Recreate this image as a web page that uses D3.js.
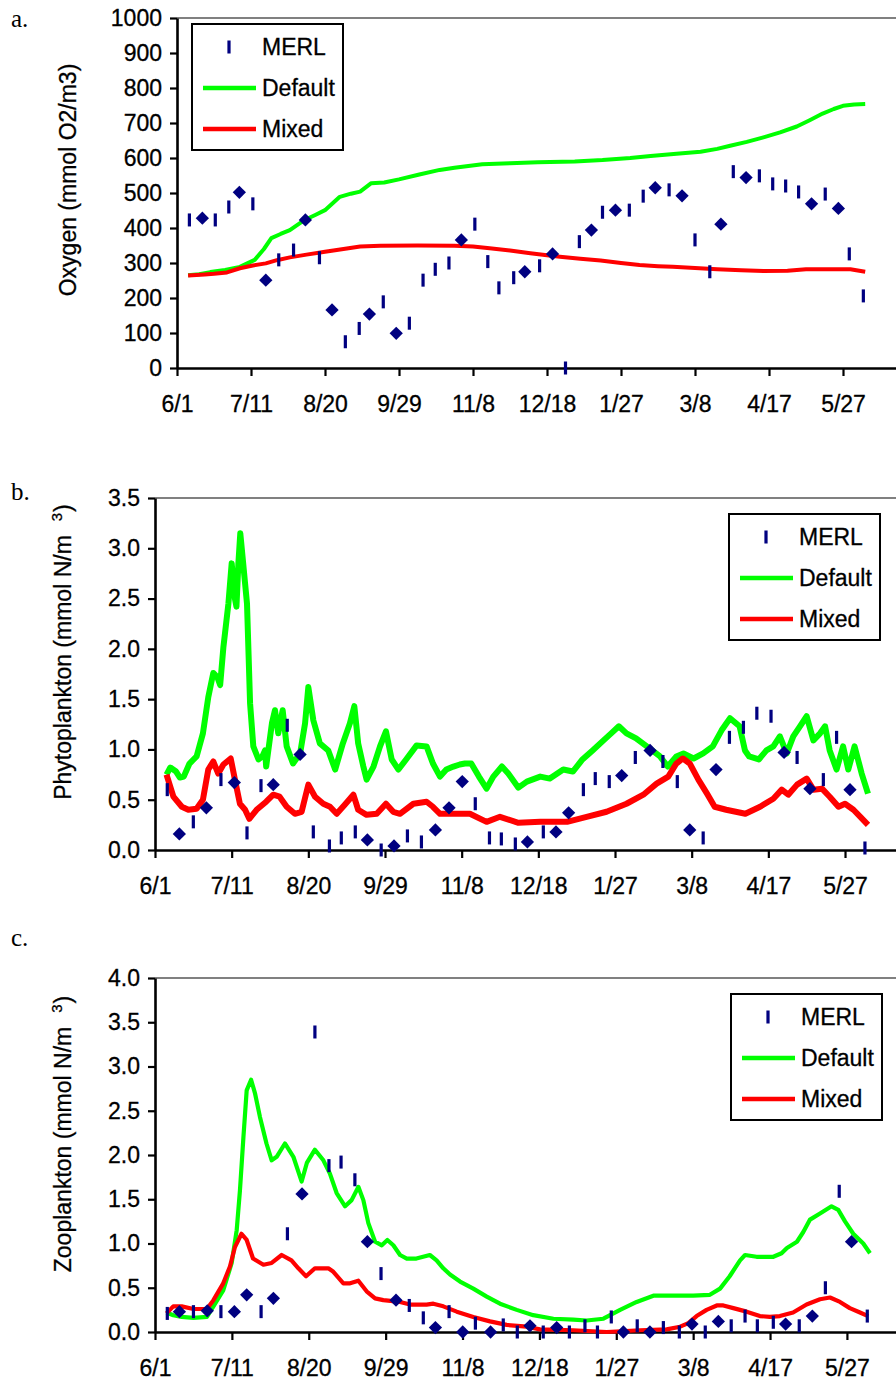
<!DOCTYPE html>
<html>
<head>
<meta charset="utf-8">
<script src="https://cdn.jsdelivr.net/npm/d3@7"></script>
<style>
  body { margin: 0; background: #fff; }
  svg { display: block; }
</style>
</head>
<body>
<svg id="chart" width="896" height="1387"></svg>
<script>
// ---- Shared axis labels (days since 6/1, ticks every 40 days) ----
const dateTicks = ["6/1", "7/11", "8/20", "9/29", "11/8", "12/18", "1/27", "3/8", "4/17", "5/27"];
const oxygenTicks = [0, 100, 200, 300, 400, 500, 600, 700, 800, 900, 1000];
const phytoTicks = [0, 0.5, 1.0, 1.5, 2.0, 2.5, 3.0, 3.5];
const zooTicks = [0, 0.5, 1.0, 1.5, 2.0, 2.5, 3.0, 3.5, 4.0];
const seriesNames = ["MERL", "Default", "Mixed"];

// ---- a. Oxygen (mmol O2/m3): [day, value] ----
const oxygenDefault = [[6,265],[12,268],[18,274],[26,280],[34,289],[42,309],[47,340],[51,371],[56,383],[61,394],[69,423],[75,438],[80,451],[88,489],[94,498],[99,504],[105,528],[112,530],[120,539],[131,553],[142,566],[150,572],[165,582],[180,585],[195,588],[215,590],[230,594],[245,600],[256,606],[270,612],[283,618],[292,626],[299,635],[308,646],[317,659],[326,673],[335,690],[342,708],[349,727],[355,740],[360,749],[366,753],[372,754]];
const oxygenMixed = [[6,264],[15,267],[20,269],[27,273],[34,285],[41,293],[48,299],[54,308],[61,316],[70,324],[80,332],[90,340],[99,347],[110,349],[130,350],[150,349],[160,347],[169,342],[180,336],[191,328],[200,322],[207,318],[218,312],[229,307],[240,300],[250,294],[260,291],[268,289],[280,286],[292,282],[305,279],[317,277],[330,278],[340,282],[352,282],[364,282],[372,275]];
const oxygenMerl = [[6.7,423],[20.7,423],[28,460],[41,469],[55,309],[63,337],[77,315],[91,75],[98.5,113],[111.5,189],[125.6,128],[133,251],[139.6,282],[147,300],[161,411],[168,304],[174,229],[182,258],[196,292],[210,0],[217.5,361],[230,445],[244.5,451],[252,491],[266,509],[280,366],[288,275],[300.7,561],[314.8,549],[322,526],[329,520],[336,503],[350.4,497],[363.4,326],[371,206]];
const oxygenMerlMean = [[13.7,428],[33.7,502],[48,251],[69.4,423],[83.8,166],[104,154],[118.5,99],[153.7,366],[188,275],[203,326],[224,394],[237,451],[258.5,515],[273,492],[294,411],[307.6,544],[343,469],[357.5,456]];

// ---- b. Phytoplankton (mmol N/m3) ----
const phytoDefault = [[6,0.75],[8,0.82],[11,0.78],[13,0.72],[15,0.73],[18,0.86],[21.7,0.93],[25,1.16],[27.8,1.52],[30.4,1.76],[32.5,1.72],[34,1.64],[35.7,2.02],[38.3,2.45],[40,2.85],[41.7,2.5],[42.5,2.42],[43.5,2.85],[44.5,3.15],[46,2.85],[47,2.65],[48,2.45],[49.6,1.46],[51.3,1.03],[54,0.9],[56,0.93],[57.4,0.99],[58,0.83],[61,1.26],[62.6,1.39],[64.3,1.16],[66.6,1.39],[68.7,1.03],[72,0.86],[75.7,0.96],[78.3,1.26],[80,1.62],[82.6,1.29],[86,1.06],[90.4,0.99],[94,0.8],[98,1.06],[101.7,1.26],[104,1.43],[106,1.06],[108.7,0.83],[110.4,0.7],[114,0.83],[117.4,1.03],[120.5,1.18],[123.5,0.9],[127,0.8],[131,0.9],[136.5,1.04],[141.7,1.03],[145,0.86],[148.7,0.73],[152,0.8],[155.7,0.83],[159,0.85],[161.7,0.86],[165,0.86],[169,0.73],[173,0.61],[176.5,0.73],[181,0.83],[184.3,0.76],[189.6,0.62],[194,0.68],[201,0.73],[206,0.71],[213,0.8],[218,0.78],[223,0.9],[228.3,0.99],[234,1.09],[238,1.16],[242,1.23],[246,1.16],[251,1.11],[258,1.01],[263.5,0.93],[267.5,0.83],[272,0.93],[275.7,0.96],[281,0.91],[286,0.96],[291,1.03],[295.6,1.19],[300,1.31],[305,1.23],[307.8,0.99],[310,0.93],[315,0.9],[319,0.99],[322.6,1.03],[326,1.13],[329.6,0.96],[333,1.13],[336.5,1.23],[340,1.33],[343.5,1.09],[347,1.16],[349.6,1.23],[352,0.99],[355.6,0.8],[359,1.03],[361.7,0.8],[365,1.03],[368.7,0.76],[372,0.56]];
const phytoMixed = [[6,0.75],[9.6,0.53],[14,0.43],[17.4,0.4],[21.7,0.41],[25,0.5],[27.8,0.8],[30.4,0.88],[33,0.76],[35.7,0.85],[39.5,0.91],[41.7,0.7],[44.3,0.46],[47,0.4],[49.2,0.31],[53,0.4],[58,0.48],[61.7,0.55],[65,0.53],[68.7,0.43],[73,0.36],[76.5,0.38],[80,0.65],[83.5,0.53],[87.8,0.46],[91.3,0.43],[94.8,0.36],[99,0.45],[103.5,0.55],[106,0.4],[110.4,0.35],[115.7,0.36],[120.5,0.46],[124.3,0.38],[127.8,0.36],[134.8,0.46],[141.7,0.48],[145,0.43],[148.7,0.36],[155.7,0.36],[164.3,0.36],[173,0.28],[180,0.33],[189.6,0.27],[201,0.28],[215,0.28],[225.2,0.33],[235.6,0.38],[246,0.46],[254.8,0.55],[261.7,0.66],[267.8,0.73],[272,0.86],[275.4,0.91],[279,0.86],[283.5,0.7],[288,0.56],[292,0.43],[298,0.4],[308,0.36],[315.7,0.43],[322.6,0.51],[327,0.6],[330.4,0.55],[335,0.65],[340,0.71],[343.5,0.6],[348,0.61],[352,0.53],[356.6,0.43],[360,0.46],[364.4,0.4],[368,0.33],[372,0.25]];
const phytoMerl = [[6.4,0.6],[20,0.28],[34.4,0.7],[48,0.17],[55.3,0.64],[69,1.24],[82.6,0.18],[91,0.04],[97.2,0.12],[104.5,0.18],[118,0.0],[131.7,0.14],[139,0.08],[167.1,0.46],[174.5,0.12],[180.7,0.11],[188,0.06],[202.6,0.18],[223.5,0.6],[229.7,0.71],[237,0.68],[250.6,0.92],[265,0.88],[272.5,0.68],[286,0.12],[299.7,1.12],[307,1.22],[314,1.36],[321.4,1.33],[335,0.92],[348.7,0.7],[355.6,1.12],[370.4,0.02]];
const phytoMerlMean = [[12.7,0.16],[26.8,0.42],[41.4,0.67],[61.7,0.65],[75.7,0.95],[110.8,0.1],[124.7,0.04],[146.3,0.2],[153.4,0.42],[160.3,0.68],[194.3,0.08],[209.2,0.18],[215.8,0.37],[243.5,0.74],[258.3,0.99],[279,0.2],[292.7,0.8],[328.2,0.97],[341.7,0.61],[362.6,0.6]];

// ---- c. Zooplankton (mmol N/m3) ----
const zooDefault = [[6,0.22],[9.5,0.19],[13.9,0.17],[20,0.16],[27,0.17],[30.4,0.29],[35.5,0.47],[39.9,0.78],[42.5,1.15],[44.2,1.6],[46,2.2],[47.7,2.73],[50,2.85],[52,2.7],[54.6,2.43],[58,2.13],[60.7,1.94],[63.3,1.98],[67.6,2.13],[72,1.98],[76.3,1.7],[79,1.91],[83.2,2.06],[87.6,1.94],[91,1.79],[94.5,1.57],[98.9,1.42],[102.3,1.49],[105.8,1.64],[108.4,1.49],[111,1.23],[114.5,1.02],[118,0.98],[120.9,1.04],[124,0.98],[127.5,0.87],[131,0.83],[136,0.83],[143,0.87],[146.5,0.81],[150,0.72],[153.5,0.65],[158.7,0.57],[165.6,0.49],[172.6,0.4],[179.5,0.32],[188.2,0.25],[196.8,0.19],[207.3,0.15],[217.6,0.14],[224.6,0.13],[233.3,0.15],[242,0.25],[250.6,0.34],[259.3,0.41],[269.7,0.41],[280,0.41],[288.7,0.42],[294,0.49],[299,0.63],[304.4,0.81],[307,0.87],[313,0.85],[321.7,0.85],[326,0.89],[328.8,0.95],[334,1.02],[337.3,1.13],[340.8,1.27],[346,1.34],[352,1.42],[355.5,1.38],[359,1.25],[363.3,1.11],[368.5,1.0],[372,0.89]];
const zooMixed = [[6,0.21],[9.5,0.29],[13.9,0.29],[20,0.26],[27,0.26],[30.4,0.36],[35.5,0.55],[39,0.74],[41.6,0.96],[45,1.11],[47.7,1.04],[51,0.83],[56.4,0.76],[60.7,0.78],[65.9,0.87],[71,0.81],[74.6,0.72],[78.6,0.63],[83.2,0.72],[90.2,0.72],[92.8,0.68],[98,0.55],[101.5,0.55],[105.8,0.58],[110.1,0.46],[114.5,0.38],[118.8,0.36],[127.5,0.34],[132.7,0.31],[141.3,0.31],[144.8,0.32],[150,0.29],[157,0.23],[165.6,0.17],[174.3,0.12],[183,0.08],[193.4,0.06],[200.3,0.03],[217.6,0.02],[235,0.0],[252.4,0.02],[266.2,0.03],[273.2,0.06],[277.5,0.1],[281.8,0.18],[287,0.25],[292.3,0.3],[295.7,0.3],[300.9,0.27],[307.8,0.23],[314.7,0.18],[319.9,0.17],[325.1,0.18],[332,0.22],[339,0.31],[346,0.37],[351.2,0.39],[356.4,0.34],[361.5,0.27],[366.8,0.22],[371,0.18]];
const zooMerl = [[6.4,0.21],[20,0.23],[34.3,0.23],[55.2,0.23],[68.9,1.11],[83.2,3.39],[90.5,1.88],[96.8,1.92],[104,1.72],[117.6,0.66],[132.3,0.3],[139.6,0.16],[153,0.23],[166.7,0.1],[181.2,0.08],[188.5,0.0],[202,0.0],[215.6,0.0],[223.7,0.07],[230.2,0.0],[237.4,0.17],[250.9,0.07],[264.5,0.05],[272.8,0.0],[286.3,0.0],[299.8,0.07],[307,0.18],[313.4,0.07],[321.7,0.11],[335.2,0.07],[348.8,0.5],[356,1.59],[370.6,0.18]];
const zooMerlMean = [[12.7,0.23],[27.2,0.24],[41.3,0.23],[47.7,0.42],[61.6,0.38],[76.5,1.56],[110.5,1.02],[125.4,0.36],[145.9,0.05],[160.1,0.0],[174.6,0.0],[195.1,0.07],[209,0.05],[243.7,0.0],[257.5,0.0],[279.4,0.09],[293.1,0.12],[328.1,0.09],[342,0.18],[362.4,1.02]];

// ---- Styling ----
const GREEN = "#00ff00", RED = "#ff0000", NAVY = "#000080";
const SANS = "'Liberation Sans', Arial, sans-serif";
const SERIF = "'Liberation Serif', 'Times New Roman', serif";
const FS = 23;
const tickDays = dateTicks.map((_, i) => i * 40);

const panels = [
  {
    letter: "a.", letterY: 27,
    left: 177, top: 18, bottom: 368, pxPerDay: 1.85,
    yMax: 1000, yTicks: oxygenTicks, fmt: d3.format("d"),
    label: ["Oxygen (mmol O2/m3)"], labelX: 76, labelY: 180,
    legend: { x: 192, y: 24 }, width: 4,
    def: oxygenDefault, mix: oxygenMixed, merl: oxygenMerl, mean: oxygenMerlMean
  },
  {
    letter: "b.", letterY: 500,
    left: 155, top: 498, bottom: 850, pxPerDay: 1.9167,
    yMax: 3.5, yTicks: phytoTicks, fmt: d3.format(".1f"),
    label: ["Phytoplankton (mmol N/m", "3", ")"], labelX: 71, labelY: 652,
    legend: { x: 729, y: 514 }, width: 6,
    def: phytoDefault, mix: phytoMixed, merl: phytoMerl, mean: phytoMerlMean
  },
  {
    letter: "c.", letterY: 946,
    left: 155, top: 978, bottom: 1332, pxPerDay: 1.922,
    yMax: 4, yTicks: zooTicks, fmt: d3.format(".1f"),
    label: ["Zooplankton (mmol N/m", "3", ")"], labelX: 71, labelY: 1134,
    legend: { x: 731, y: 994 }, width: 4.2,
    def: zooDefault, mix: zooMixed, merl: zooMerl, mean: zooMerlMean
  }
];

const svg = d3.select("#chart");
const W = +svg.attr("width");

const dash = (g, data, x, y) =>
  g.selectAll(null).data(data).join("rect")
    .attr("x", d => x(d[0]) - 1.6).attr("y", d => y(d[1]) - 6.5)
    .attr("width", 3.2).attr("height", 13).attr("fill", NAVY);

const diamond = d3.symbol(d3.symbolSquare, 88);

// slightly heavier glyphs for the sans labels
const sans = sel => sel.attr("font-family", SANS).attr("font-size", FS)
  .attr("fill", "#000").attr("stroke", "#000").attr("stroke-width", 0.3);

panels.forEach(p => {
  const x = d3.scaleLinear().domain([0, 400]).range([p.left, p.left + 400 * p.pxPerDay]);
  const y = d3.scaleLinear().domain([0, p.yMax]).range([p.bottom, p.top]);
  const g = svg.append("g");

  // panel letter
  g.append("text").attr("x", 11).attr("y", p.letterY)
    .attr("font-family", SERIF).attr("font-size", 25).attr("fill", "#000").text(p.letter);

  // top border of the plot area
  g.append("line").attr("x1", p.left).attr("x2", W).attr("y1", p.top).attr("y2", p.top)
    .attr("stroke", "#808080").attr("stroke-width", 2);

  // y axis
  const ya = g.append("g").attr("transform", `translate(${p.left},0)`)
    .call(d3.axisLeft(y).tickValues(p.yTicks).tickFormat(p.fmt)
      .tickSize(7).tickSizeOuter(0).tickPadding(8));
  // x axis
  const xa = g.append("g").attr("transform", `translate(0,${p.bottom})`)
    .call(d3.axisBottom(x).tickValues(tickDays).tickFormat((d, i) => dateTicks[i])
      .tickSize(8).tickSizeOuter(0).tickPadding(20));
  [ya, xa].forEach(a => {
    a.select(".domain").attr("stroke", "#000").attr("stroke-width", 2.6);
    a.selectAll(".tick line").attr("stroke", "#000").attr("stroke-width", 2.2);
    a.selectAll(".tick text").call(sans);
  });

  // y axis title
  const t = g.append("text")
    .attr("transform", `translate(${p.labelX},${p.labelY}) rotate(-90)`)
    .attr("text-anchor", "middle").call(sans);
  t.append("tspan").text(p.label[0]);
  if (p.label.length > 1) {
    t.append("tspan").attr("dx", 14).attr("dy", -9).attr("font-size", 15).text(p.label[1]);
    t.append("tspan").attr("dx", 1).attr("dy", 9).text(p.label[2]);
  }

  // model curves
  const line = d3.line().x(d => x(d[0])).y(d => y(d[1]));
  g.append("path").datum(p.def).attr("d", line).attr("fill", "none")
    .attr("stroke", GREEN).attr("stroke-width", p.width).attr("stroke-linejoin", "round");
  g.append("path").datum(p.mix).attr("d", line).attr("fill", "none")
    .attr("stroke", RED).attr("stroke-width", p.width).attr("stroke-linejoin", "round");

  // observations
  dash(g.append("g"), p.merl, x, y);
  g.append("g").selectAll(null).data(p.mean).join("path")
    .attr("d", diamond)
    .attr("transform", d => `translate(${x(d[0])},${y(d[1])}) rotate(45)`)
    .attr("fill", NAVY);

  // legend
  const L = g.append("g").attr("transform", `translate(${p.legend.x},${p.legend.y})`);
  L.append("rect").attr("width", 151).attr("height", 126)
    .attr("fill", "#fff").attr("stroke", "#000").attr("stroke-width", 2);
  const rows = [23, 64, 105];
  L.append("rect").attr("x", 35.4).attr("y", rows[0] - 6.5).attr("width", 3.2).attr("height", 13).attr("fill", NAVY);
  L.append("line").attr("x1", 11).attr("x2", 64).attr("y1", rows[1]).attr("y2", rows[1])
    .attr("stroke", GREEN).attr("stroke-width", 4.5);
  L.append("line").attr("x1", 11).attr("x2", 64).attr("y1", rows[2]).attr("y2", rows[2])
    .attr("stroke", RED).attr("stroke-width", 4.5);
  L.selectAll(null).data(seriesNames).join("text")
    .attr("x", 70).attr("y", (d, i) => rows[i] + 8.3)
    .call(sans)
    .text(d => d);
});
</script>
</body>
</html>
